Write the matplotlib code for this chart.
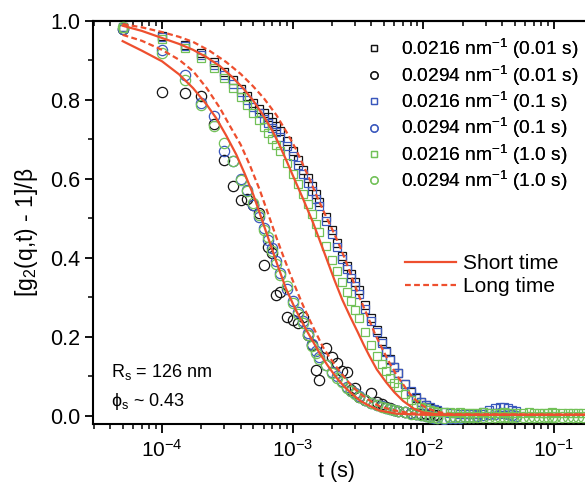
import matplotlib
matplotlib.use('Agg')
import matplotlib.pyplot as plt
from matplotlib.lines import Line2D
from matplotlib.ticker import LogLocator, NullFormatter, FixedLocator, FixedFormatter

plt.rcParams['font.family'] = ['Liberation Sans', 'DejaVu Sans']
plt.rcParams['mathtext.fontset'] = 'custom'
plt.rcParams['mathtext.rm'] = 'Liberation Sans'
plt.rcParams['mathtext.it'] = 'Liberation Sans:italic'
plt.rcParams['mathtext.bf'] = 'Liberation Sans:bold'

# ---------------- data ----------------
# lag times (s)
t = [5e-5, 1e-4, 1.5e-4, 2e-4, 2.5e-4, 3e-4, 3.5e-4, 4e-4, 4.5e-4, 5e-4,
     5.5e-4, 6e-4, 6.5e-4, 7e-4, 7.5e-4, 8e-4, 9e-4, 1e-3, 1.1e-3, 1.2e-3,
     1.3e-3, 1.4e-3, 1.5e-3, 1.6e-3, 1.8e-3, 2.0e-3, 2.2e-3, 2.4e-3, 2.6e-3, 2.8e-3,
     3.0e-3, 3.2e-3, 3.6e-3, 4.0e-3, 4.4e-3, 4.8e-3, 5.2e-3, 5.6e-3, 6.0e-3, 6.4e-3,
     7.2e-3, 8.0e-3, 8.8e-3, 9.6e-3, 1.04e-2, 1.12e-2, 1.2e-2, 1.28e-2, 1.44e-2, 1.6e-2,
     1.76e-2, 1.92e-2, 2.08e-2, 2.24e-2, 2.4e-2, 2.56e-2, 2.88e-2, 3.2e-2, 3.52e-2, 3.84e-2,
     4.16e-2, 4.48e-2, 4.8e-2, 5.12e-2, 5.76e-2, 6.4e-2, 7.04e-2, 7.68e-2, 8.32e-2, 8.96e-2,
     9.6e-2, 0.1024, 0.1152, 0.128, 0.1408, 0.1536, 0.1664]

# q = 0.0216 nm^-1, squares
sq_001 = [0.985, 0.962, 0.940, 0.918, 0.895, 0.872, 0.850, 0.829, 0.810, 0.793,
          0.778, 0.767, 0.756, 0.745, 0.733, 0.721, 0.697, 0.672, 0.648, 0.624,
          0.602, 0.581, 0.561, 0.542, 0.505, 0.470, 0.437, 0.406, 0.380, 0.360,
          0.338, 0.318, 0.280, 0.248, 0.218, 0.190, 0.165, 0.143, 0.125, 0.108,
          0.080, 0.060, 0.045, 0.035, 0.027, 0.020, 0.016, 0.012]
sq_01 = [0.985, 0.960, 0.937, 0.913, 0.888, 0.864, 0.841, 0.819, 0.800, 0.782,
         0.766, 0.753, 0.741, 0.730, 0.718, 0.706, 0.683, 0.659, 0.636, 0.613,
         0.591, 0.570, 0.550, 0.531, 0.494, 0.460, 0.428, 0.398, 0.372, 0.350,
         0.330, 0.309, 0.272, 0.240, 0.212, 0.186, 0.163, 0.142, 0.124, 0.108,
         0.082, 0.062, 0.047, 0.036, 0.028, 0.022, 0.017, 0.014, 0.010, 0.008,
         0.007, 0.006, 0.006, 0.005, 0.005, 0.006, 0.010, 0.016, 0.020, 0.022,
         0.022, 0.020, 0.016, 0.012]
sq_10 = [0.983, 0.955, 0.932, 0.907, 0.882, 0.856, 0.831, 0.808, 0.787, 0.767,
         0.749, 0.732, 0.716, 0.700, 0.685, 0.670, 0.641, 0.613, 0.587, 0.562,
         0.537, 0.512, 0.487, 0.465, 0.430, 0.395, 0.366, 0.340, 0.314, 0.290,
         0.268, 0.248, 0.212, 0.180, 0.153, 0.131, 0.113, 0.097, 0.084, 0.073,
         0.055, 0.041, 0.031, 0.024, 0.019, 0.015, 0.013, 0.011, 0.010, 0.009,
         0.008, 0.009, 0.008, 0.007, 0.008, 0.008, 0.009, 0.008, 0.007, 0.008,
         0.009, 0.008, 0.008, 0.007, 0.008, 0.009, 0.008, 0.008, 0.007, 0.008,
         0.009, 0.008, 0.008, 0.007, 0.008, 0.008, 0.008]

# q = 0.0294 nm^-1, circles
ci_001 = [0.980, 0.820, 0.818, 0.809, 0.740, 0.649, 0.581, 0.548, 0.550, 0.534,
          0.514, 0.382, 0.428, 0.413, 0.306, 0.314, 0.251, 0.243, 0.235, 0.251,
          0.205, 0.180, 0.116, 0.091, 0.171, 0.150, 0.135, 0.114, 0.111, 0.066,
          0.070, 0.048, 0.040, 0.057, 0.035, 0.030, 0.024, 0.020, 0.015, 0.012,
          0.010, 0.008, 0.006, 0.005, 0.004, 0.004, 0.003, 0.003]
ci_01 = [0.980, 0.927, 0.864, 0.792, 0.759, 0.670, 0.645, 0.600, 0.573, 0.535,
         0.505, 0.475, 0.446, 0.425, 0.392, 0.362, 0.322, 0.290, 0.262, 0.240,
         0.210, 0.182, 0.165, 0.150, 0.130, 0.112, 0.100, 0.088, 0.074, 0.064,
         0.057, 0.050, 0.041, 0.034, 0.029, 0.025, 0.021, 0.018, 0.015, 0.013,
         0.010, 0.007, 0.005, 0.003, 0.001, -0.002, -0.004, -0.006, -0.007, -0.006,
         -0.005, -0.004, -0.003, -0.002, -0.002, 0.000, 0.002, 0.004, 0.006, 0.008,
         0.008, 0.006, 0.003, 0.000]
ci_10 = [0.985, 0.920, 0.851, 0.788, 0.733, 0.691, 0.645, 0.598, 0.570, 0.540,
         0.509, 0.470, 0.452, 0.418, 0.385, 0.358, 0.328, 0.285, 0.258, 0.236,
         0.205, 0.178, 0.160, 0.145, 0.128, 0.110, 0.097, 0.086, 0.072, 0.063,
         0.055, 0.048, 0.040, 0.033, 0.028, 0.024, 0.020, 0.017, 0.015, 0.012,
         0.009, 0.006, 0.004, 0.002, 0.000, -0.002, -0.003, -0.004, -0.004, -0.003,
         -0.003, -0.002, -0.003, -0.003, -0.002, -0.002, -0.002, -0.002, -0.002, -0.002,
         -0.003, -0.003, -0.002, -0.002, -0.002, -0.003, -0.002, -0.003, -0.002, -0.002,
         -0.003, -0.002, -0.002, -0.003, -0.002, -0.002, -0.002]

# model curves
t_s1 = [5e-5, 7e-5, 1e-4, 1.35e-4, 1.73e-4, 2.2e-4, 2.77e-4, 3.4e-4, 4.17e-4, 5e-4,
        5.9e-4, 7e-4, 7.9e-4, 9e-4, 1.03e-3, 1.2e-3, 1.43e-3, 1.6e-3, 1.86e-3, 2.1e-3,
        2.4e-3, 2.75e-3, 3.15e-3, 3.5e-3, 3.85e-3, 4.4e-3, 5.2e-3, 6e-3, 7e-3, 8.5e-3,
        1e-2, 1.3e-2, 2e-2, 0.18]
y_s1 = [0.988, 0.975, 0.957, 0.942, 0.927, 0.908, 0.886, 0.860, 0.830, 0.798,
        0.763, 0.722, 0.687, 0.645, 0.600, 0.550, 0.490, 0.447, 0.389, 0.342,
        0.294, 0.252, 0.212, 0.180, 0.153, 0.118, 0.085, 0.060, 0.038, 0.018,
        0.009, 0.004, 0.003, 0.003]
t_l1 = [5e-5, 7e-5, 1e-4, 1.35e-4, 1.73e-4, 2.3e-4, 3.1e-4, 4e-4, 4.97e-4, 6e-4,
        7.5e-4, 9e-4, 1.05e-3, 1.2e-3, 1.35e-3, 1.55e-3, 1.8e-3, 2.05e-3, 2.3e-3, 2.6e-3,
        2.87e-3, 3.3e-3, 3.85e-3, 4.3e-3, 4.9e-3, 5.5e-3, 6.2e-3, 7e-3, 7.8e-3, 8.5e-3,
        9.3e-3, 1.05e-2, 1.25e-2, 1.6e-2, 2.5e-2, 0.18]
y_l1 = [0.992, 0.984, 0.972, 0.960, 0.947, 0.925, 0.896, 0.866, 0.835, 0.805,
        0.762, 0.718, 0.678, 0.636, 0.599, 0.552, 0.505, 0.466, 0.429, 0.385,
        0.346, 0.295, 0.243, 0.205, 0.167, 0.135, 0.105, 0.080, 0.058, 0.044,
        0.032, 0.021, 0.011, 0.005, 0.003, 0.003]
t_s2 = [5e-5, 7e-5, 1e-4, 1.35e-4, 1.73e-4, 2.2e-4, 2.6e-4, 3.1e-4, 3.7e-4, 4.3e-4,
        5e-4, 5.6e-4, 6.6e-4, 7.6e-4, 8.9e-4, 1.05e-3, 1.27e-3, 1.45e-3, 1.6e-3, 1.85e-3,
        2.15e-3, 2.5e-3, 2.87e-3, 3.3e-3, 3.85e-3, 4.6e-3, 6.2e-3, 1e-2, 0.18]
y_s2 = [0.949, 0.925, 0.898, 0.865, 0.830, 0.788, 0.754, 0.710, 0.662, 0.613,
        0.560, 0.513, 0.444, 0.385, 0.322, 0.270, 0.218, 0.185, 0.160, 0.128,
        0.098, 0.073, 0.055, 0.038, 0.026, 0.014, 0.006, 0.003, 0.003]
t_l2 = [5e-5, 7e-5, 1e-4, 1.35e-4, 1.73e-4, 2.2e-4, 2.77e-4, 3.3e-4, 4e-4, 4.7e-4,
        5.6e-4, 6.6e-4, 7.5e-4, 8.4e-4, 9.5e-4, 1.07e-3, 1.2e-3, 1.35e-3, 1.5e-3, 1.7e-3,
        1.9e-3, 2.15e-3, 2.5e-3, 2.87e-3, 3.3e-3, 3.85e-3, 4.6e-3, 5.8e-3, 8e-3, 1.2e-2, 0.18]
y_l2 = [0.965, 0.950, 0.927, 0.902, 0.873, 0.830, 0.780, 0.735, 0.687, 0.635,
        0.572, 0.505, 0.452, 0.408, 0.362, 0.319, 0.280, 0.243, 0.212, 0.175,
        0.150, 0.125, 0.097, 0.074, 0.056, 0.040, 0.025, 0.015, 0.007, 0.004, 0.003]

labels = ['0.0216 nm$^{\\mathregular{-1}}$ (0.01 s)', '0.0294 nm$^{\\mathregular{-1}}$ (0.01 s)',
          '0.0216 nm$^{\\mathregular{-1}}$ (0.1 s)', '0.0294 nm$^{\\mathregular{-1}}$ (0.1 s)',
          '0.0216 nm$^{\\mathregular{-1}}$ (1.0 s)', '0.0294 nm$^{\\mathregular{-1}}$ (1.0 s)']
x_ticks = [1e-4, 1e-3, 1e-2, 1e-1]
x_ticklabels = ['10$^{\\mathregular{-4}}$', '10$^{\\mathregular{-3}}$',
                '10$^{\\mathregular{-2}}$', '10$^{\\mathregular{-1}}$']
y_ticks = [0.0, 0.2, 0.4, 0.6, 0.8, 1.0]
y_ticklabels = ['0.0', '0.2', '0.4', '0.6', '0.8', '1.0']

# ---------------- style ----------------
BLACK = '#141414'
BLUE = '#3a58bd'
GREEN = '#72c158'
RED = '#ee4f2e'

W, H = 585, 492
fig = plt.figure(figsize=(W / 100, H / 100), dpi=100)
ax = fig.add_axes([93 / W, 1 - 424 / H, (W - 93) / W, (424 - 21) / H])
ax.set_xscale('log')
ax.set_xlim(10 ** -4.528, 10 ** -0.763)
ax.set_ylim(-0.0203, 1.0)

series = [(sq_001, 's', BLACK), (ci_001, 'o', BLACK),
          (sq_01, 's', BLUE), (ci_01, 'o', BLUE),
          (sq_10, 's', GREEN), (ci_10, 'o', GREEN)]
handles = []
for (vals, mk, col), lab in zip(series, labels):
    ms = 6.4 if mk == 's' else 7.4
    ax.plot(t[:len(vals)], vals, linestyle='none', marker=mk, ms=ms,
            mfc='none', mec=col, mew=0.9, zorder=3)
    handles.append(Line2D([], [], linestyle='none', marker=mk, ms=ms * 0.72,
                          mfc='none', mec=col, mew=0.9))

lw = 1.6
dash = (0, (2.6, 1.5))
ax.plot(t_s1, y_s1, color=RED, lw=lw, zorder=4)
ax.plot(t_l1, y_l1, color=RED, lw=lw, ls=dash, zorder=4)
ax.plot(t_s2, y_s2, color=RED, lw=lw, zorder=4)
ax.plot(t_l2, y_l2, color=RED, lw=lw, ls=dash, zorder=4)

# spines and ticks
for s in ['left', 'bottom', 'top']:
    ax.spines[s].set_linewidth(1.5)
ax.spines['right'].set_visible(False)

ax.xaxis.set_major_locator(FixedLocator(x_ticks))
ax.xaxis.set_major_formatter(FixedFormatter(x_ticklabels))
ax.xaxis.set_minor_locator(LogLocator(base=10, subs=range(2, 10), numticks=20))
ax.xaxis.set_minor_formatter(NullFormatter())
ax.set_yticks(y_ticks)
ax.set_yticklabels(y_ticklabels)
ax.yaxis.set_minor_locator(FixedLocator([0.1, 0.3, 0.5, 0.7, 0.9]))

ax.tick_params(axis='x', which='major', direction='out', length=6.5, width=1.3,
               labelsize=15, pad=4, top=False)
ax.tick_params(axis='x', which='minor', direction='out', length=3.8, width=1.1, top=False)
ax.tick_params(axis='y', which='major', direction='out', length=6, width=1.3,
               labelsize=15.5, pad=3, right=False)
ax.tick_params(axis='y', which='minor', direction='out', length=3.5, width=1.1, right=False)

sec = ax.secondary_xaxis('top')
sec.spines['top'].set_linewidth(1.5)
sec.xaxis.set_major_locator(FixedLocator(x_ticks))
sec.xaxis.set_minor_locator(LogLocator(base=10, subs=range(2, 10), numticks=20))
sec.tick_params(axis='x', which='major', direction='in', length=5.5, width=1.3,
                labeltop=False)
sec.tick_params(axis='x', which='minor', direction='in', length=3.5, width=1.1)
sec.xaxis.set_major_formatter(NullFormatter())
sec.xaxis.set_minor_formatter(NullFormatter())

# labels
fig.text(27 / W, 1 - 232 / H, '[g$_{\\mathregular{2}}$(q,t) - 1]/β', rotation=90,
         ha='center', va='center', fontsize=16.5)
fig.text(336 / W, 1 - 471 / H, 't (s)', ha='center', va='center', fontsize=15.5)
fig.text(111 / W, 1 - 372 / H, 'R$_{\\mathregular{s}}$ = 126 nm', ha='left', va='center', fontsize=13)
fig.text(111 / W, 1 - 401 / H, 'ϕ$_{\\mathregular{s}}$ ~ 0.43', ha='left', va='center', fontsize=13)

leg1 = fig.legend(handles, labels, loc='upper left',
                  bbox_to_anchor=(364 / W, 1 - 37 / H), frameon=False, fontsize=13.8,
                  handlelength=1.0, handletextpad=0.95, labelspacing=0.12,
                  borderpad=0, borderaxespad=0)
fig.add_artist(leg1)
h2 = [Line2D([], [], color=RED, lw=lw), Line2D([], [], color=RED, lw=lw, ls=dash)]
fig.legend(h2, ['Short time', 'Long time'], loc='upper left',
           bbox_to_anchor=(405 / W, 1 - 254 / H), frameon=False, fontsize=15,
           handlelength=2.45, handletextpad=0.35, labelspacing=0.2,
           borderpad=0, borderaxespad=0)

fig.savefig('out.png', dpi=100)
